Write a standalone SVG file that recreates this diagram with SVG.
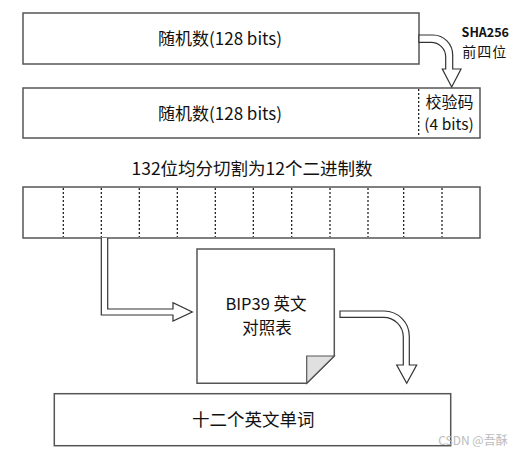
<svg xmlns="http://www.w3.org/2000/svg" width="522" height="456" viewBox="0 0 522 456">
<style>
.box{fill:#fff;stroke:#555;stroke-width:1.5}
.dash{stroke:#111;stroke-width:1.2;stroke-dasharray:2 2;fill:none}
.pipe{fill:#fff;stroke:#333;stroke-width:1.2;stroke-linejoin:miter}
text{font-family:"Noto Sans CJK SC","Noto Sans",sans-serif;fill:#111;text-anchor:middle}
.t{font-size:17px}
.s{font-size:12.5px;font-weight:bold}
</style>
<rect width="522" height="456" fill="#fff"/>
<g id="random1">
<rect class="box" x="23" y="13" width="396" height="51"/>
<text class="t" x="220" y="45">随机数(128 bits)</text>
</g>
<g id="random2">
<rect class="box" x="23" y="88" width="457" height="50"/>
<line class="dash" x1="418.7" y1="89" x2="418.7" y2="137"/>
<text class="t" x="220" y="120">随机数(128 bits)</text>
<text class="t" x="449.5" y="108" style="font-size:16px">校验码</text>
<text class="t" x="449" y="130" style="font-size:15.5px">(4 bits)</text>
</g>
<g id="title">
<text class="t" x="252" y="175" style="font-size:17.5px">132位均分切割为12个二进制数</text>
</g>
<g id="segments">
<rect class="box" x="23" y="187" width="457" height="51"/>
<g class="dash">
<line x1="63.3" y1="188" x2="63.3" y2="237"/>
<line x1="101.3" y1="188" x2="101.3" y2="237"/>
<line x1="139.3" y1="188" x2="139.3" y2="237"/>
<line x1="177.3" y1="188" x2="177.3" y2="237"/>
<line x1="215.3" y1="188" x2="215.3" y2="237"/>
<line x1="253.3" y1="188" x2="253.3" y2="237"/>
<line x1="291.7" y1="188" x2="291.7" y2="237"/>
<line x1="330" y1="188" x2="330" y2="237"/>
<line x1="368" y1="188" x2="368" y2="237"/>
<line x1="403.7" y1="188" x2="403.7" y2="237"/>
<line x1="442" y1="188" x2="442" y2="237"/>
</g>
</g>
<g id="bip39">
<path class="box" d="M197,249 H334.3 V356 L306.7,383.3 H197 Z"/>
<path d="M306.7,356 H334.3 L306.7,383.3 Z" fill="#e0e0e0" stroke="#555" stroke-width="1.2"/>
<text class="t" x="266" y="310" style="font-size:16.5px">BIP39 英文</text>
<text class="t" x="267" y="334" style="font-size:16.5px">对照表</text>
</g>
<g id="words">
<rect class="box" x="54.3" y="393.7" width="396.4" height="52"/>
<text class="t" x="253.3" y="426" style="font-size:17.5px">十二个英文单词</text>
</g>
<g id="connectors">
<path class="pipe" d="M419,35 H433 A19.7 20 0 0 1 452.7 55 V69 H461 L451.7 87 L442.3 69 H445.7 V57 A14.7 14.7 0 0 0 431 42.3 H419 Z"/>
<path class="pipe" d="M101.3,238 V315 H173 V321 L192.3 312 L173 302.7 V309 H107.7 V238"/>
<path class="pipe" d="M340,311 H384 A25.3 25.3 0 0 1 409.3 336.3 V365 H416.7 L406.7 383.3 L396.7 365 H403.3 V337 A19.7 19.7 0 0 0 383.6 317.3 H340 Z"/>
</g>
<g id="labels">
<text class="s" x="485.3" y="37">SHA256</text>
<text x="484.7" y="57" style="font-size:14px;letter-spacing:1px">前四位</text>
</g>
<text x="473" y="445" style="font-size:12px;fill:#bbb">CSDN @吾酥</text>
</svg>
